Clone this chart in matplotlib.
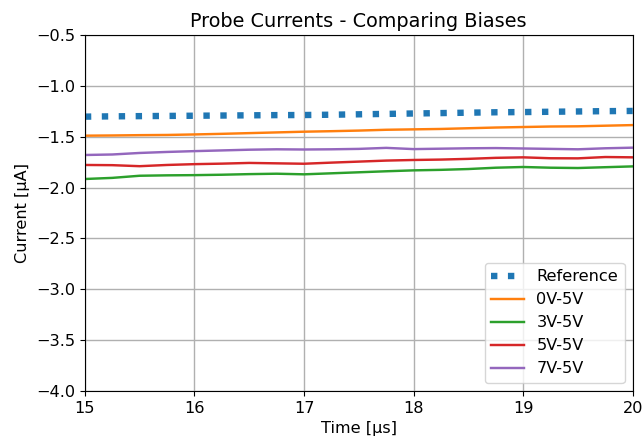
import numpy as np
import matplotlib.pyplot as plt

plt.rcParams["font.size"] = 11.6
plt.rcParams["lines.linewidth"] = 1.75

# time axis [us]
t = np.arange(15.0, 20.01, 0.25)

ref = [-1.303, -1.300, -1.298, -1.296, -1.294, -1.292, -1.290, -1.288, -1.287, -1.284, -1.280,
       -1.276, -1.272, -1.268, -1.264, -1.260, -1.258, -1.255, -1.252, -1.249, -1.247]
i0v = [-1.490, -1.488, -1.485, -1.483, -1.478, -1.472, -1.465, -1.458, -1.451, -1.446, -1.440,
       -1.432, -1.428, -1.424, -1.417, -1.410, -1.405, -1.400, -1.398, -1.392, -1.386]
i3v = [-1.916, -1.905, -1.884, -1.880, -1.878, -1.874, -1.868, -1.864, -1.870, -1.860, -1.850,
       -1.840, -1.831, -1.826, -1.818, -1.805, -1.798, -1.805, -1.808, -1.800, -1.792]
i5v = [-1.778, -1.780, -1.790, -1.778, -1.770, -1.765, -1.758, -1.762, -1.766, -1.755, -1.745,
       -1.735, -1.729, -1.725, -1.718, -1.708, -1.703, -1.712, -1.713, -1.700, -1.703]
i7v = [-1.680, -1.675, -1.660, -1.650, -1.642, -1.635, -1.628, -1.624, -1.626, -1.624, -1.620,
       -1.610, -1.622, -1.618, -1.614, -1.612, -1.616, -1.620, -1.624, -1.614, -1.608]

fig = plt.figure(figsize=(6.43, 4.42), dpi=100)
ax = fig.add_axes([0.132, 0.1154, 0.852, 0.8055])

ax.plot(t, ref, ':', color='tab:blue', linewidth=4.6, label='Reference')
ax.plot(t, i0v, color='tab:orange', label='0V-5V')
ax.plot(t, i3v, color='tab:green', label='3V-5V')
ax.plot(t, i5v, color='tab:red', label='5V-5V')
ax.plot(t, i7v, color='tab:purple', label='7V-5V')

ax.set_xlim(15, 20)
ax.set_ylim(-4.0, -0.5)
ax.set_title('Probe Currents - Comparing Biases', fontsize=13.9)
ax.set_xlabel('Time [µs]')
ax.set_ylabel('Current [µA]')
ax.grid(True, linewidth=1.0)
ax.legend(loc='lower right')

fig.savefig('out.png', dpi=100)
